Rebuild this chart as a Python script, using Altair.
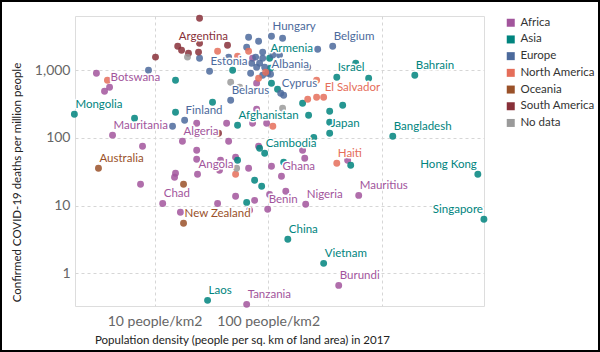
import altair as alt
import pandas as pd

# (country label, population density per km2 in 2017, confirmed COVID-19 deaths per million)
africa = [
    ("", 3.08, 903), ("Botswana", 4.02, 561), ("", 3.63, 489), ("Mauritania", 4.27, 110),
    ("", 7.84, 75.4), ("", 7.53, 20.7), ("Chad", 11.8, 10.8), ("", 16.9, 8.0),
    ("", 15.3, 30.1), ("", 15.0, 26.3), ("", 23.5, 165), ("Algeria", 17.6, 89.3),
    ("", 23.5, 65.8), ("", 23.5, 48.4), ("Angola", 23.9, 29.1), ("", 38.1, 46.8),
    ("", 44.9, 89.3), ("", 43.1, 165), ("", 51.7, 51.9), ("", 67.3, 35.7),
    ("", 51.7, 13.8), ("", 35.9, 10.8), ("", 76.0, 12.0), ("", 103, 14.7),
    ("Benin", 99.1, 8.85), ("", 143, 16.3), ("Nigeria", 214, 10.5), ("Mauritius", 627, 14.2),
    ("Burundi", 418, 0.667), ("Tanzania", 64.7, 0.350), ("", 79.2, 643), ("", 79.2, 266),
    ("", 73.0, 165), ("", 97.0, 165), ("", 82.4, 75.4), ("", 201, 65.8),
    ("", 210, 50.1), ("", 501, 46.8), ("", 107, 38.2), ("Ghana", 131, 27.2),
    ("", 73.0, 1500), ("", 68.7, 8.55), ("", 37.3, 33.4),
]
asia = [
    ("Mongolia", 1.97, 224), ("", 6.67, 195), ("", 15.3, 712), ("", 15.3, 240),
    ("", 32.4, 337), ("", 48.7, 1000), ("", 76.0, 23.7), ("", 87.7, 19.4),
    ("", 64.7, 11.2), ("", 107, 643), ("", 121, 524), ("Armenia", 103, 1500),
    ("", 105, 1070), ("Afghanistan", 53.8, 154), ("", 53.8, 46.8), ("Cambodia", 93.2, 59.4),
    ("", 84.1, 70.5), ("", 137, 43.8), ("", 201, 326), ("", 227, 216),
    ("", 348, 248), ("", 348, 171), ("Japan", 348, 117), ("", 252, 102),
    ("", 453, 304), ("Israel", 402, 788), ("", 590, 1270), ("", 767, 762),
    ("", 533, 39.5), ("China", 149, 3.19), ("Vietnam", 308, 1.41), ("Laos", 29.3, 0.401),
    ("Bangladesh", 1250, 106), ("Bahrain", 1954, 844), ("Hong Kong", 7010, 29.1),
    ("Singapore", 7930, 6.30),
]
europe = [
    ("", 8.85, 1000), ("", 24.9, 1500), ("Estonia", 30.5, 967), ("", 44.9, 1560),
    ("", 67.3, 3070), ("", 64.7, 2190), ("", 82.4, 2680), ("", 77.6, 1560),
    ("", 89.5, 1500), ("", 84.1, 1270), ("", 93.2, 1110), ("", 70.1, 903),
    ("", 79.2, 1110), ("", 99.1, 903), ("", 89.5, 1850), ("", 110, 1670),
    ("", 126, 1670), ("", 71.6, 1270), ("", 89.5, 844), ("Hungary", 107, 3180),
    ("", 134, 2970), ("", 223, 1110), ("", 273, 2040), ("Belgium", 370, 2260),
    ("Belarus", 46.8, 361), ("Cyprus", 129, 457), ("", 137, 427), ("Finland", 18.4, 182),
    ("", 14.4, 149), ("Albania", 105, 873),
]
north_america = [
    ("", 3.85, 712), ("", 35.9, 1910), ("", 53.8, 1610), ("", 67.3, 1910),
    ("", 82.4, 762), ("", 95.1, 934), ("", 267, 712), ("", 223, 373),
    ("", 267, 399), ("El Salvador", 308, 399), ("", 110, 149), ("", 51.7, 29.1),
    ("Haiti", 402, 42.3),
]
south_america = [
    ("", 24.9, 5860), ("", 10.2, 1560), ("Argentina", 16.0, 2260), ("", 17.3, 1970),
    ("", 19.9, 1780), ("", 24.4, 1850), ("", 24.9, 2500), ("", 43.9, 2340),
    ("", 36.6, 117),
]
oceania = [
    ("Australia", 3.21, 35.7), ("", 18.0, 20.7), ("New Zealand", 18.0, 5.50),
]
no_data = [
    ("", 19.5, 1560), ("", 46.8, 665), ("", 56.1, 561), ("", 134, 275), ("", 52.8, 35.7),
]

continents = ["Africa", "Asia", "Europe", "North America", "Oceania", "South America", "No data"]
colors = ["#A2559C", "#00847E", "#4C6A9C", "#E56E5A", "#9A5129", "#883039", "#9a9a9a"]
groups = [africa, asia, europe, north_america, oceania, south_america, no_data]
right_labels = ["Singapore", "Hong Kong"]
x_ticks = [10, 100, 1000]
y_ticks = [1, 10, 100, 1000]

rows = []
for cont, grp in zip(continents, groups):
    for name, dens, deaths in grp:
        rows.append({"country": name, "density": dens, "deaths": deaths,
                     "continent": cont, "side": "right" if name in right_labels else "left"})
df = pd.DataFrame(rows)

FONT = "Lato"
x_enc = alt.X(
    "density:Q",
    scale=alt.Scale(type="log", domain=[1.995, 7943], nice=False),
    axis=alt.Axis(
        values=x_ticks,
        labelExpr="datum.value == 1000 ? '' : datum.value + ' people/km2'",
        grid=True, gridDash=[3, 3], gridColor="#d6d6d6", domain=False, ticks=False,
        labelFontSize=14, labelColor="#666666", labelPadding=8, labelFont=FONT,
        title="Population density (people per sq. km of land area) in 2017",
        titleFont=FONT, titleFontSize=11.5, titleFontWeight="normal", titleColor="#222222",
        titleX=167, titleY=34, titleBaseline="middle", titleAlign="center",
    ),
)
y_enc = alt.Y(
    "deaths:Q",
    scale=alt.Scale(type="log", domain=[0.331, 6310], nice=False),
    axis=alt.Axis(
        values=y_ticks, format=",",
        grid=True, gridDash=[3, 3], gridColor="#d6d6d6", domain=False, ticks=False,
        labelFontSize=14, labelColor="#666666", labelPadding=5, labelFont=FONT,
        title="Confirmed COVID-19 deaths per million people",
        titleFont=FONT, titleFontSize=11.5, titleFontWeight="normal", titleColor="#222222",
        titleX=-58, titleY=166, titleBaseline="middle", titleAlign="center",
    ),
)
color_scale = alt.Scale(domain=continents, range=colors)

base = alt.Chart(df)
points = base.mark_circle(size=48, opacity=0.85).encode(
    x=x_enc, y=y_enc,
    color=alt.Color(
        "continent:N", scale=color_scale,
        legend=alt.Legend(
            title=None, orient="none", legendX=430, legendY=1,
            symbolType="square", symbolSize=64, symbolOpacity=1, symbolStrokeWidth=0,
            labelFontSize=11.5, labelFont=FONT, labelColor="#333333",
            rowPadding=3.7, labelOffset=4,
        ),
    ),
)

left_filter = "datum.country != '' && datum.side == 'left'"
right_filter = "datum.country != '' && datum.side == 'right'"


def label_layers(filt, align, dx):
    halo = base.transform_filter(filt).mark_text(
        align=align, baseline="middle", dx=dx, dy=-9, font=FONT, fontSize=11.5,
        stroke="white", strokeWidth=3, fill="white", strokeJoin="round",
    ).encode(x=x_enc, y=y_enc, text="country:N")
    txt = base.transform_filter(filt).mark_text(
        align=align, baseline="middle", dx=dx, dy=-9, font=FONT, fontSize=11.5,
    ).encode(x=x_enc, y=y_enc, text="country:N",
             color=alt.Color("continent:N", scale=color_scale, legend=None))
    return [halo, txt]


frame = alt.Chart(alt.Data(values=[{}])).mark_rect(
    fillOpacity=0, stroke="black", strokeWidth=2
).encode(x=alt.value(-74), x2=alt.value(524), y=alt.value(-15), y2=alt.value(335))

chart = alt.layer(
    points,
    *label_layers(left_filter, "left", 1),
    *label_layers(right_filter, "right", -1),
    frame,
).properties(
    width=409, height=290,
    autosize=alt.AutoSizeParams(type="none"),
    padding={"left": 75, "top": 16, "right": 116, "bottom": 46},
).configure_view(strokeWidth=0).configure(font=FONT)

chart.save("out.html", embed_options={"renderer": "svg", "actions": False})
